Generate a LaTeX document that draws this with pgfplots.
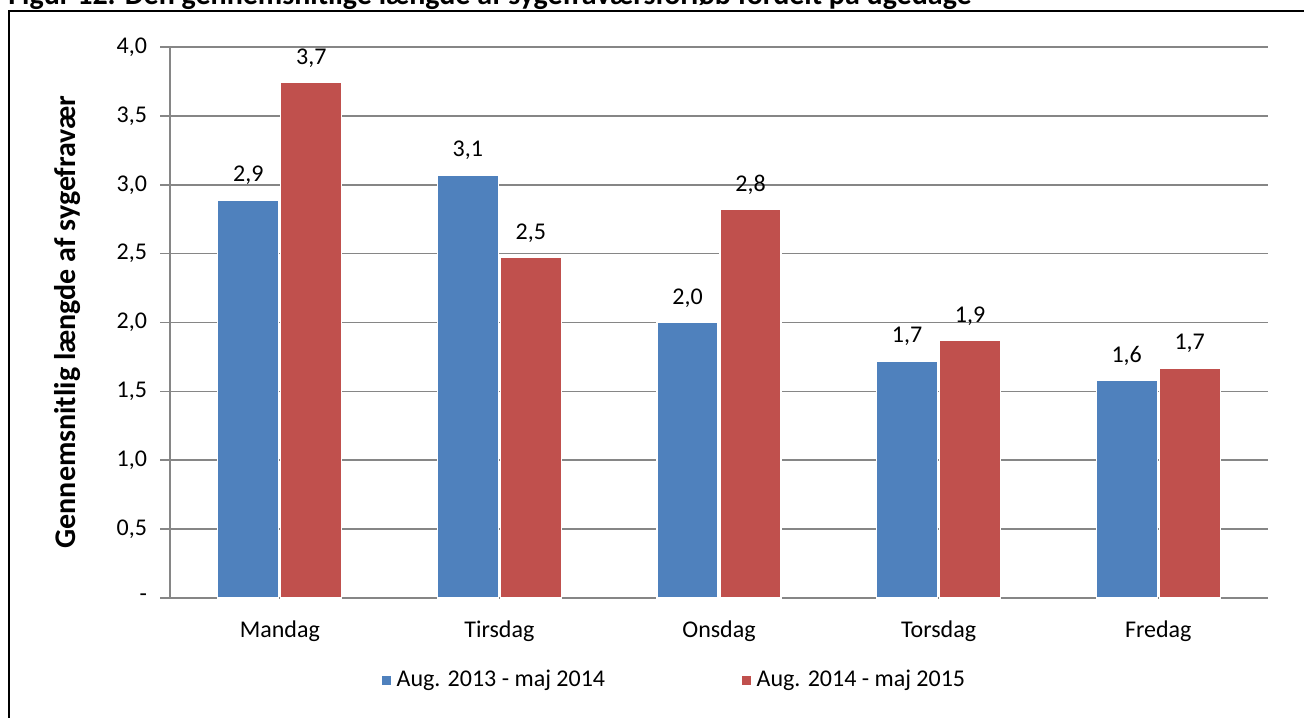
\documentclass[border=0pt]{standalone}
\usepackage{fontspec}
\setmainfont{Carlito}
\usepackage{pgfplots}
\pgfplotsset{compat=1.18}

\definecolor{serieA}{HTML}{4F81BD}
\definecolor{serieB}{HTML}{C0504D}
\definecolor{gitter}{HTML}{868686}

\begin{document}
\begin{tikzpicture}
  % page size: 1px of the reference = 0.5pt
  \useasboundingbox (0,0) rectangle (652pt,358.5pt);

  % title, cut by the top of the page as in the reference
  \node[anchor=base west, inner sep=0pt, font=\bfseries\fontsize{15}{17}\selectfont]
    at (4pt,356pt) {Figur 12. Den gennemsnitlige længde af sygefraværsforløb fordelt på ugedage};
  % frame
  \draw[line width=1pt] (4.5pt,-2pt) -- (4.5pt,353pt) -- (660pt,353pt);

  \begin{axis}[
    at={(85pt,59.5pt)}, anchor=south west,
    scale only axis,
    width=549pt, height=275.5pt,
    ybar=1pt, bar width=30.5pt,
    xmin=-0.5, xmax=4.5,
    ymin=0, ymax=4,
    axis x line*=bottom, axis y line*=left,
    axis line style={gitter, line width=0.8pt},
    xtick={0,1,2,3,4},
    xticklabels={Mandag,Tirsdag,Onsdag,Torsdag,Fredag},
    major x tick style={draw=none},
    extra x ticks={-0.5,0.5,1.5,2.5,3.5,4.5},
    extra x tick labels={},
    extra x tick style={tick align=outside, major tick length=4pt,
      tick style={gitter, line width=0.8pt}, grid=none},
    ytick={0,0.5,...,4},
    yticklabels={{-},{0,5},{1,0},{1,5},{2,0},{2,5},{3,0},{3,5},{4,0}},
    ymajorgrids,
    grid style={gitter, line width=0.8pt},
    y tick style={gitter, line width=0.8pt},
    tick align=outside, major tick length=5pt,
    ticklabel style={font=\fontsize{12}{14}\selectfont},
    xticklabel style={yshift=-3pt},
    yticklabel style={xshift=-3pt},
    /pgf/number format/.cd, use comma, fixed, fixed zerofill, precision=1, assume math mode=true,
    /pgfplots/.cd,
    nodes near coords,
    nodes near coords style={font=\fontsize{12}{14}\selectfont, yshift=4pt, text=black},
    legend columns=2,
    legend style={at={(0.46,-0.149)}, anchor=center, draw=none,
      font=\fontsize{12}{14}\selectfont,
      /tikz/every even column/.append style={column sep=66pt}},
    legend image code/.code={\fill[#1] (0pt,-2.6pt) rectangle (5.2pt,2.6pt);},
  ]
    \addplot[fill=serieA, draw=white, line width=0.6pt] coordinates
      {(0,2.89) (1,3.07) (2,2.00) (3,1.72) (4,1.58)};
    \addplot[fill=serieB, draw=white, line width=0.6pt] coordinates
      {(0,3.74) (1,2.47) (2,2.82) (3,1.87) (4,1.67)};
    \legend{Aug. 2013 - maj 2014, Aug. 2014 - maj 2015}
  \end{axis}

  \node[rotate=90, font=\bfseries\fontsize{15}{17}\selectfont] at (34pt,197.5pt)
    {Gennemsnitlig længde af sygefravær};
\end{tikzpicture}
\end{document}
